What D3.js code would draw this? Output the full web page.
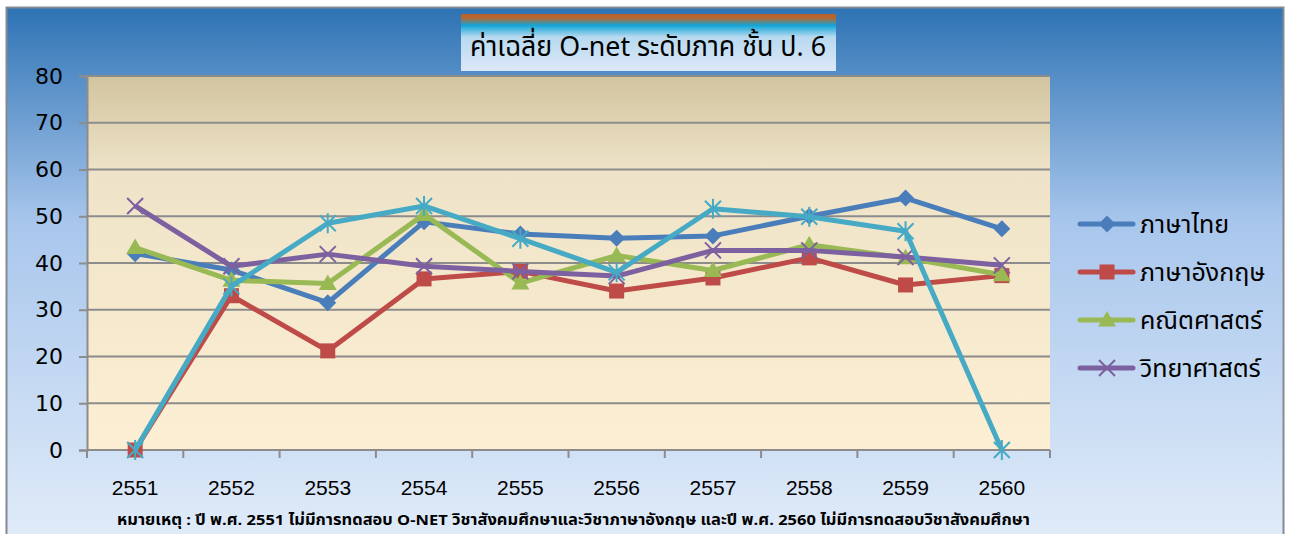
<!DOCTYPE html>
<html>
<head>
<meta charset="utf-8">
<script src="https://cdn.jsdelivr.net/npm/d3@7"></script>
<style>
  body { margin: 0; background: #fff; }
  svg text { font-family: Tahoma, "Noto Sans Thai", "DejaVu Sans", sans-serif; }
</style>
</head>
<body>
<svg id="chart" width="1290" height="534"></svg>
<script>
// Data
const years = ["2551", "2552", "2553", "2554", "2555", "2556", "2557", "2558", "2559", "2560"];
const yTicks = [0, 10, 20, 30, 40, 50, 60, 70, 80];

const thai    = [42.0, 38.5, 31.5, 48.8, 46.2, 45.3, 45.8, 50.0, 53.9, 47.3];
const english = [0,    33.0, 21.2, 36.6, 38.2, 34.0, 36.8, 41.1, 35.3, 37.3];
const math    = [43.3, 36.3, 35.6, 50.4, 35.7, 41.6, 38.4, 43.9, 41.1, 37.5];
const science = [52.2, 39.3, 41.9, 39.3, 38.2, 37.2, 42.7, 42.7, 41.3, 39.5];
const social  = [0,    35.0, 48.5, 52.2, 45.2, 38.0, 51.6, 49.9, 46.8, 0];

const seriesNames = ["ภาษาไทย", "ภาษาอังกฤษ", "คณิตศาสตร์", "วิทยาศาสตร์", "สังคมศึกษา"];
const title = "ค่าเฉลี่ย O-net ระดับภาค  ชั้น ป. 6";
const note = "หมายเหตุ :  ปี พ.ศ. 2551 ไม่มีการทดสอบ O-NET วิชาสังคมศึกษาและวิชาภาษาอังกฤษ และปี พ.ศ. 2560 ไม่มีการทดสอบวิชาสังคมศึกษา";

const series = [
  { name: seriesNames[0], values: thai,    color: "#4a7ebb", marker: "diamond" },
  { name: seriesNames[1], values: english, color: "#be4b48", marker: "square" },
  { name: seriesNames[2], values: math,    color: "#98b954", marker: "triangle" },
  { name: seriesNames[3], values: science, color: "#7d60a0", marker: "x" },
  { name: seriesNames[4], values: social,  color: "#46aac5", marker: "star", noLegend: true }
];

const svg = d3.select("#chart");
const defs = svg.append("defs");

// gradients
const bg = defs.append("linearGradient").attr("id", "bgGrad").attr("x1", 0).attr("y1", 0).attr("x2", 0).attr("y2", 1);
bg.append("stop").attr("offset", "0%").attr("stop-color", "#2e73b4");
bg.append("stop").attr("offset", "40%").attr("stop-color", "#a8c6ec");
bg.append("stop").attr("offset", "100%").attr("stop-color", "#e1ecf9");

const pg = defs.append("linearGradient").attr("id", "plotGrad").attr("x1", 0).attr("y1", 0).attr("x2", 0).attr("y2", 1);
pg.append("stop").attr("offset", "0%").attr("stop-color", "#d2c49f");
pg.append("stop").attr("offset", "25%").attr("stop-color", "#eee3c8");
pg.append("stop").attr("offset", "100%").attr("stop-color", "#fdefd3");

const tg = defs.append("linearGradient").attr("id", "titleGrad").attr("x1", 0).attr("y1", 0).attr("x2", 0).attr("y2", 1);
tg.append("stop").attr("offset", "0%").attr("stop-color", "#b5612b");
tg.append("stop").attr("offset", "7%").attr("stop-color", "#b8672e");
tg.append("stop").attr("offset", "20%").attr("stop-color", "#12a5d8");
tg.append("stop").attr("offset", "40%").attr("stop-color", "#b7d9ef");
tg.append("stop").attr("offset", "100%").attr("stop-color", "#dde8f8");

// outer chart area
svg.append("rect")
  .attr("x", 6.5).attr("y", 7.5).attr("width", 1277).attr("height", 535)
  .attr("fill", "url(#bgGrad)")
  .attr("stroke", "#848a92").attr("stroke-width", 2);

// scales
const margin = { top: 76, left: 87, right: 1050, bottom: 450 };
const x = d3.scaleBand().domain(years).range([margin.left, margin.right]);
const y = d3.scaleLinear().domain([0, 80]).range([margin.bottom, margin.top]);
const cx = d => x(d) + x.bandwidth() / 2;

// plot area
svg.append("rect")
  .attr("x", margin.left).attr("y", margin.top)
  .attr("width", margin.right - margin.left).attr("height", margin.bottom - margin.top)
  .attr("fill", "url(#plotGrad)");

// gridlines
svg.append("g")
  .selectAll("line")
  .data(yTicks.filter(d => d > 0))
  .enter()
  .append("line")
  .attr("x1", margin.left).attr("x2", margin.right)
  .attr("y1", d => y(d)).attr("y2", d => y(d))
  .attr("stroke", "#8c8c8c").attr("stroke-width", 2);

// y axis
const yAxis = d3.axisLeft(y).tickValues(yTicks).tickSize(8).tickPadding(16);
const gy = svg.append("g")
  .attr("transform", "translate(" + margin.left + ",0)")
  .call(yAxis);
gy.select(".domain").attr("stroke", "#8c8c8c").attr("stroke-width", 2);
gy.selectAll(".tick line").attr("stroke", "#8c8c8c").attr("stroke-width", 2);
gy.selectAll(".tick text")
  .attr("fill", "#000")
  .style("font-family", "'DejaVu Sans', sans-serif")
  .style("font-size", "22px");

// x axis: labels at band centres, ticks at band edges
const xAxis = d3.axisBottom(x).tickSize(0).tickPadding(30);
const gx = svg.append("g")
  .attr("transform", "translate(0," + margin.bottom + ")")
  .call(xAxis);
gx.select(".domain").remove();
gx.selectAll(".tick text")
  .attr("fill", "#000")
  .style("font-family", "'Liberation Sans', sans-serif")
  .style("font-size", "21px");

svg.append("line")
  .attr("x1", margin.left).attr("x2", margin.right)
  .attr("y1", margin.bottom).attr("y2", margin.bottom)
  .attr("stroke", "#8c8c8c").attr("stroke-width", 2);

const edges = years.map(d => x(d)).concat([margin.right]);
svg.append("g")
  .selectAll("line")
  .data(edges)
  .enter()
  .append("line")
  .attr("x1", d => d).attr("x2", d => d)
  .attr("y1", margin.bottom).attr("y2", margin.bottom + 8)
  .attr("stroke", "#8c8c8c").attr("stroke-width", 2);

// markers
function drawMarker(g, type, color) {
  if (type === "diamond") {
    g.append("path").attr("d", "M0,-8.5L8.5,0L0,8.5L-8.5,0Z").attr("fill", color);
  } else if (type === "square") {
    g.append("rect").attr("x", -7.5).attr("y", -7.5).attr("width", 15).attr("height", 15).attr("fill", color);
  } else if (type === "triangle") {
    g.append("path").attr("d", "M0,-9L9,6.5L-9,6.5Z").attr("fill", color);
  } else if (type === "x") {
    g.append("path").attr("d", "M-8,-8L8,8M-8,8L8,-8").attr("stroke", color).attr("stroke-width", 2);
  } else if (type === "star") {
    g.append("path").attr("d", "M-8,-8L8,8M-8,8L8,-8M0,-10V10").attr("stroke", color).attr("stroke-width", 2);
  }
}

const line = d3.line()
  .x((d, i) => cx(years[i]))
  .y(d => y(d));

series.forEach(s => {
  svg.append("path")
    .datum(s.values)
    .attr("d", line)
    .attr("fill", "none")
    .attr("stroke", s.color)
    .attr("stroke-width", 5)
    .attr("stroke-linejoin", "round");

  s.values.forEach((v, i) => {
    const g = svg.append("g").attr("transform", "translate(" + cx(years[i]) + "," + y(v) + ")");
    drawMarker(g, s.marker, s.color);
  });
});

// legend
const legend = svg.append("g").attr("transform", "translate(1080,224)");
series.filter(s => !s.noLegend).forEach((s, i) => {
  const g = legend.append("g").attr("transform", "translate(0," + (i * 48) + ")");
  g.append("line")
    .attr("x1", 0).attr("x2", 53).attr("y1", 0).attr("y2", 0)
    .attr("stroke", s.color).attr("stroke-width", 5).attr("stroke-linecap", "round");
  const m = g.append("g").attr("transform", "translate(27,0)");
  drawMarker(m, s.marker, s.color);
  g.append("text")
    .attr("x", 60).attr("y", 0).attr("dy", "0.35em")
    .style("font-size", "25px")
    .attr("fill", "#000")
    .text(s.name);
});

// title box
svg.append("rect")
  .attr("x", 461).attr("y", 14).attr("width", 375).attr("height", 57)
  .attr("fill", "url(#titleGrad)");
svg.append("text")
  .attr("x", 648).attr("y", 46).attr("dy", "0.35em")
  .attr("text-anchor", "middle")
  .attr("textLength", 356).attr("lengthAdjust", "spacingAndGlyphs")
  .style("font-size", "28px")
  .attr("fill", "#000")
  .text(title);

// note
svg.append("text")
  .attr("x", 117).attr("y", 520).attr("dy", "0.35em")
  .attr("textLength", 913).attr("lengthAdjust", "spacingAndGlyphs")
  .style("font-size", "15px")
  .style("font-weight", "bold")
  .attr("fill", "#000")
  .text(note);
</script>
</body>
</html>
